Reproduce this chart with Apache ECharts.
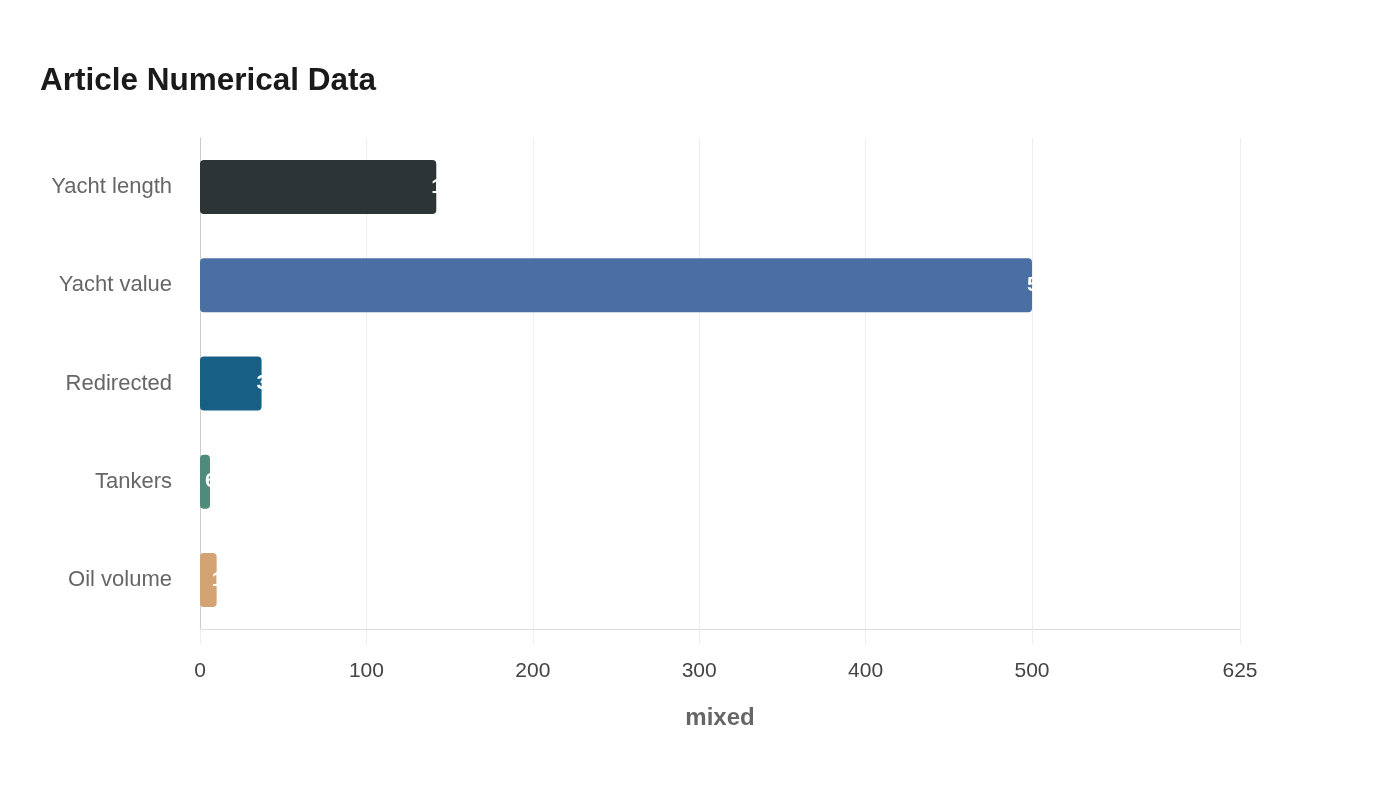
<!DOCTYPE html>
<html>
<head>
<meta charset="utf-8">
<title>Article Numerical Data</title>
<script src="https://cdn.jsdelivr.net/npm/echarts@6/dist/echarts.min.js"></script>
<style>
    html, body { margin: 0; padding: 0; background: #fff; }
    #chart { width: 1400px; height: 800px; }
</style>
</head>
<body>
<div id="chart"></div>
<script>
/*图表数据*/
var categories = ['Yacht length', 'Yacht value', 'Redirected', 'Tankers', 'Oil volume'];
var values = [142, 500, 37, 6, 10];
var barColors = ['#2d3436', '#4a6fa3', '#185f86', '#4e8b7a', '#d4a373'];
var xTicks = [0, 100, 200, 300, 400, 500, 625];

function drawChart(el) {
    var _thisChart = echarts.init(document.getElementById(el));
    var font = '"Liberation Sans", Arial, sans-serif';
    _thisChart.setOption({
        animation: false,
        textStyle: { fontFamily: font },
        title: {
            text: 'Article Numerical Data',
            left: 35,
            top: 60,
            textStyle: { fontSize: 31.5, fontWeight: 'bold', color: '#1a1a1a', fontFamily: font }
        },
        grid: { left: 200, right: 160, top: 138, bottom: 171 },
        xAxis: {
            type: 'value',
            min: 0,
            max: 625,
            name: 'mixed',
            nameLocation: 'middle',
            nameGap: 77,
            nameTextStyle: { fontSize: 24, fontWeight: 'bold', color: '#666' },
            axisLine: { show: true, lineStyle: { color: '#ddd' } },
            axisTick: { show: true, length: 15, customValues: xTicks, lineStyle: { color: '#eee' } },
            axisLabel: { margin: 32, fontSize: 21, color: '#444', customValues: xTicks },
            splitLine: { show: true, lineStyle: { color: '#eee' } }
        },
        yAxis: {
            type: 'category',
            inverse: true,
            data: categories,
            axisLine: { show: true, lineStyle: { color: '#ccc' } },
            axisTick: { show: false },
            axisLabel: { margin: 28, fontSize: 22, color: '#666' }
        },
        series: [{
            type: 'bar',
            barWidth: '55%',
            data: values.map(function (v, i) {
                return { value: v, itemStyle: { color: barColors[i] } };
            }),
            itemStyle: { borderRadius: 4 },
            label: {
                show: true,
                position: 'right',
                distance: -5,
                color: '#fff',
                fontSize: 21,
                fontWeight: 'bold'
            }
        }]
    });
    /*响应式*/
    window.addEventListener('resize', function () { _thisChart.resize(); });
}
drawChart('chart');
</script>
</body>
</html>
